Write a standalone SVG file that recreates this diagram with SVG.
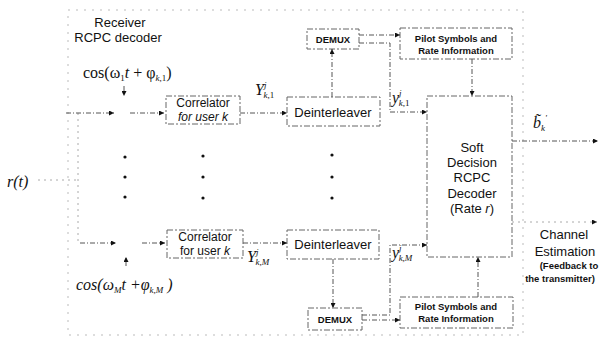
<svg xmlns="http://www.w3.org/2000/svg" width="602" height="344" viewBox="0 0 602 344">
<defs>
<marker id="ah" viewBox="0 0 10 10" refX="10" refY="5" markerWidth="8" markerHeight="5" orient="auto" markerUnits="userSpaceOnUse"><path d="M0,0 L10,5 L0,10 z" fill="#111"/></marker>
<style>
.box{fill:none;stroke:#666;stroke-width:1;stroke-dasharray:6 2 2 2}
.outer{fill:none;stroke:#bbb;stroke-width:1;stroke-dasharray:2 6}
.ln{fill:none;stroke:#555;stroke-width:1;stroke-dasharray:5 2 1 2}
.faint{fill:none;stroke:#aaa;stroke-width:1;stroke-dasharray:2 4}
.arr{marker-end:url(#ah)}
.lbl{font-family:"Liberation Sans",Arial,sans-serif;font-size:13px;fill:#111;text-anchor:middle}
.cl{font-family:"Liberation Sans",Arial,sans-serif;font-size:12px;fill:#111;text-anchor:middle}
.sm{font-family:"Liberation Sans",Arial,sans-serif;font-size:9.5px;font-weight:bold;fill:#111;text-anchor:middle}
.math{font-family:"Liberation Serif","Times New Roman",serif;font-size:16px;fill:#111}
.mi{font-style:italic}
.dot{fill:#111}
</style>
</defs>
<rect width="602" height="344" fill="#fff"/>
<rect class="outer" x="68" y="10" width="455" height="325"/>
<g id="title"><text class="lbl" x="120" y="27">Receiver</text><text class="lbl" x="118" y="42">RCPC decoder</text></g>
<g id="carrier1"><text class="math" x="83" y="78">cos(ω<tspan font-size="9" dy="3">1</tspan><tspan class="mi" dy="-3">t</tspan> + φ<tspan class="mi" font-size="9" dy="3">k</tspan><tspan font-size="9">,1</tspan><tspan dy="-3">)</tspan></text></g>
<g id="carrierM"><text class="math mi" x="76" y="290">cos(ω<tspan font-size="9" dy="3">M</tspan><tspan dy="-3">t</tspan> +φ<tspan font-size="9" dy="3">k,M</tspan><tspan dy="-3"> )</tspan></text></g>
<g id="input"><text class="math mi" x="7" y="187">r(t)</text></g>
<g id="correlator1"><rect class="box" x="166" y="96" width="74" height="28"/><text class="cl" x="203" y="107">Correlator</text><text class="cl" x="203" y="121"><tspan font-style="italic">for user k</tspan></text></g>
<g id="correlatorM"><rect class="box" x="167" y="230" width="76" height="28"/><text class="cl" x="205" y="241">Correlator</text><text class="cl" x="205" y="255">for user <tspan font-style="italic">k</tspan></text></g>
<g id="deinterleaver1"><rect class="box" x="287" y="97" width="93" height="29"/><text class="lbl" x="333" y="117">Deinterleaver</text></g>
<g id="deinterleaverM"><rect class="box" x="287" y="230" width="92" height="29"/><text class="lbl" x="333" y="249">Deinterleaver</text></g>
<g id="demux1"><rect class="box" x="307" y="29" width="52" height="20"/><text class="sm" x="333" y="43" font-size="10">DEMUX</text></g>
<g id="demuxM"><rect class="box" x="308" y="308" width="54" height="22"/><text class="sm" x="335" y="323" font-size="10">DEMUX</text></g>
<g id="pilot1"><rect class="box" x="400" y="28" width="112" height="31"/><text class="sm" x="456" y="42">Pilot Symbols and</text><text class="sm" x="456" y="54">Rate Information</text></g>
<g id="pilotM"><rect class="box" x="400" y="297" width="113" height="31"/><text class="sm" x="456" y="310">Pilot Symbols and</text><text class="sm" x="456" y="322">Rate Information</text></g>
<g id="decoder"><rect class="box" x="427" y="96" width="85" height="161"/><text class="lbl" x="472" y="152">Soft</text><text class="lbl" x="472" y="167">Decision</text><text class="lbl" x="472" y="182">RCPC</text><text class="lbl" x="472" y="198">Decoder</text><text class="lbl" x="472" y="213">(Rate <tspan font-style="italic">r</tspan>)</text></g>
<g id="channel"><text class="lbl" x="564" y="239" font-size="14">Channel</text><text class="lbl" x="565" y="256" font-size="14">Estimation</text><text class="sm" x="569" y="269" font-size="9.5">(Feedback to</text><text class="sm" x="560" y="282" font-size="9.5">the transmitter)</text></g>
<g id="labels">
<text class="math mi" x="255" y="95" font-size="14">Y<tspan font-size="9" dy="-7">j</tspan><tspan font-size="9" dx="-3" dy="10">k</tspan><tspan font-size="9" font-style="normal">,1</tspan></text>
<text class="math mi" x="247" y="262" font-size="14">Y<tspan font-size="9" dy="-7">j</tspan><tspan font-size="9" dx="-3" dy="10">k,M</tspan></text>
<text class="math mi" x="392" y="103" font-size="14">y<tspan font-size="9" dy="-7">j</tspan><tspan font-size="9" dx="-3" dy="10">k</tspan><tspan font-size="9" font-style="normal">,1</tspan></text>
<text class="math mi" x="392" y="258" font-size="14">y<tspan font-size="9" dy="-7">j</tspan><tspan font-size="9" dx="-3" dy="10">k,M</tspan></text>
<text class="math mi" x="533" y="128" font-size="15">b̃<tspan font-size="9" dy="3">k</tspan><tspan font-size="9" dy="-10">'</tspan></text>
</g>
<g id="dots">
<circle class="dot" cx="125" cy="157" r="1.6"/><circle class="dot" cx="125" cy="177" r="1.6"/><circle class="dot" cx="125" cy="197" r="1.6"/>
<circle class="dot" cx="203" cy="156" r="1.6"/><circle class="dot" cx="203" cy="177" r="1.6"/><circle class="dot" cx="203" cy="198" r="1.6"/>
<circle class="dot" cx="332" cy="155" r="1.6"/><circle class="dot" cx="332" cy="177" r="1.6"/><circle class="dot" cx="332" cy="198" r="1.6"/>
</g>
<g id="connectors">
<path class="faint" d="M38,180 H78 M78,113 V243"/>
<path class="ln arr" d="M66,113 H114"/>
<path class="ln arr" d="M130,113 H164"/>
<path class="ln arr" d="M124,86 V96"/>
<path class="ln arr" d="M80,243 H116"/>
<path class="ln arr" d="M142,243 H165"/>
<path class="ln arr" d="M126,266 V257"/>
<path class="ln arr" d="M240,113 H287"/>
<path class="ln arr" d="M243,243 H287"/>
<path class="ln arr" d="M332,97 V49"/>
<path class="ln arr" d="M359,35 H400"/>
<path class="ln arr" d="M359,43 H390 V112 H427"/>
<path class="ln arr" d="M472,59 V96"/>
<path class="ln arr" d="M512,141 H598"/>
<path class="faint arr" d="M512,222 H597"/>
<path class="ln arr" d="M333,259 V308"/>
<path class="ln arr" d="M362,320 H400"/>
<path class="ln arr" d="M362,315 H390 V245 H427"/>
<path class="ln arr" d="M478,297 V257"/>
</g>
</svg>
